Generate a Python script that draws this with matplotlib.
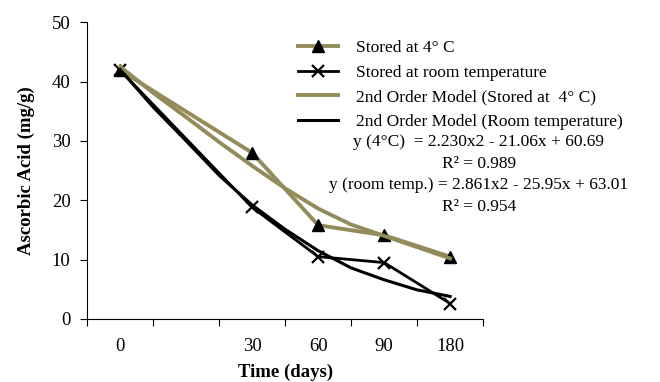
import numpy as np
import matplotlib.pyplot as plt

plt.rcParams['font.family'] = ['Liberation Serif', 'DejaVu Serif']

days = ['0', '30', '60', '90', '180']
xpos = [0.5, 2.5, 3.5, 4.5, 5.5]

cold = [41.9, 28.0, 15.8, 14.1, 10.5]
room = [41.9, 18.8, 10.5, 9.5, 2.6]

# model curves
model_x = [0.5, 1.0, 1.5, 2.0, 2.5, 3.0, 3.5, 4.0, 4.5, 5.0, 5.5]
model_cold = [42.5, 38.1, 34.0, 29.8, 25.8, 22.0, 18.6, 15.9, 14.0, 12.1, 10.2]
model_room = [42.0, 35.7, 30.0, 24.2, 19.2, 15.1, 11.5, 8.6, 6.6, 4.9, 3.8]

olive = '#948B5A'

fig = plt.figure(figsize=(6.6, 3.82), dpi=100)
ax = fig.add_axes([0.132, 0.165, 0.6, 0.777])

l1, = ax.plot(xpos, cold, color=olive, lw=2.8, marker='^', ms=8,
              mfc='black', mec='black', label='Stored at 4\u00b0 C')
l2, = ax.plot(xpos, room, color='black', lw=2.0, marker='x', ms=8,
              mew=1.6, label='Stored at room temperature')
l3, = ax.plot(model_x, model_cold, color=olive, lw=2.8,
              label='2nd Order Model (Stored at  4\u00b0 C)')
l4, = ax.plot(model_x, model_room, color='black', lw=2.2,
              label='2nd Order Model (Room temperature)')

ax.set_xlim(0, 6)
ax.set_ylim(0, 50)
ax.set_yticks([0, 10, 20, 30, 40, 50])
ax.set_xticks(range(7))
ax.set_xticklabels([])
ax.set_xticks(xpos, minor=True)
ax.set_xticklabels(days, minor=True)
ax.tick_params(axis='x', which='minor', length=0, pad=14, labelsize=13.5)
ax.tick_params(axis='x', which='major', direction='out', length=5)
ax.tick_params(axis='y', direction='out', length=5, labelsize=13.5, pad=7)
ax.spines['top'].set_visible(False)
ax.spines['right'].set_visible(False)

ax.set_xlabel('Time (days)', fontsize=13.5, fontweight='bold', labelpad=6)
ax.set_ylabel('Ascorbic Acid (mg/g)', fontsize=13.5, fontweight='bold', labelpad=12)

fig.legend(handles=[l1, l2, l3, l4], loc='upper left',
           bbox_to_anchor=(0.452, 0.895), frameon=False, fontsize=12.5,
           handlelength=2.3, handletextpad=1.0, labelspacing=0.48,
           borderaxespad=0, borderpad=0)

eq_lines = ['y (4\u00b0C)  = 2.230x2 - 21.06x + 60.69',
            'R\u00b2 = 0.989',
            'y (room temp.) = 2.861x2 - 25.95x + 63.01',
            'R\u00b2 = 0.954']
for i, s in enumerate(eq_lines):
    fig.text(479 / 660, 1 - (142 + 21.7 * i) / 382, s, ha='center',
             va='center', fontsize=12.5)

fig.savefig('out.png', dpi=100)
